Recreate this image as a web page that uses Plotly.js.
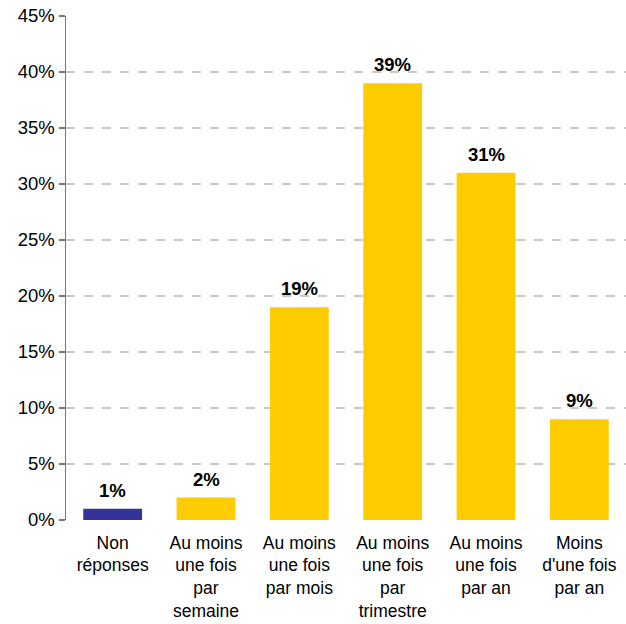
<!DOCTYPE html>
<html>
<head>
<meta charset="utf-8">
<script src="https://cdn.plot.ly/plotly-3.0.1.min.js"></script>
<style>html,body{margin:0;padding:0;background:#fff;}#chart{width:626px;height:624px;}</style>
</head>
<body>
<div id="chart"></div>
<script>
const categories = ["Non<br>réponses", "Au moins<br>une fois<br>par<br>semaine", "Au moins<br>une fois<br>par mois", "Au moins<br>une fois<br>par<br>trimestre", "Au moins<br>une fois<br>par an", "Moins<br>d'une fois<br>par an"];
const values = [1, 2, 19, 39, 31, 9];
const valueLabels = ["1%", "2%", "19%", "39%", "31%", "9%"];
const barColors = ["#333399", "#FFCC00", "#FFCC00", "#FFCC00", "#FFCC00", "#FFCC00"];
const yTickVals = [0, 5, 10, 15, 20, 25, 30, 35, 40, 45];
const yTickText = ["0%", "5%", "10%", "15%", "20%", "25%", "30%", "35%", "40%", "45%"];

const trace = {
  type: "bar",
  x: categories,
  y: values,
  marker: { color: barColors },
  hoverinfo: "none"
};

const annotations = categories.map((c, i) => ({
  x: c, y: values[i], text: "<b>" + valueLabels[i] + "</b>",
  showarrow: false, yanchor: "bottom", yshift: 6,
  font: { family: "Liberation Sans, Arial, sans-serif", size: 18.5, color: "#000" }
}));

const layout = {
  width: 626, height: 624,
  margin: { l: 66, r: 0, t: 16, b: 104 },
  paper_bgcolor: "#fff", plot_bgcolor: "#fff",
  showlegend: false,
  bargap: 0.37,
  font: { family: "Liberation Sans, Arial, sans-serif", size: 18, color: "#000" },
  xaxis: {
    type: "category",
    showgrid: false, showline: false, zeroline: false,
    ticks: "", ticklabelstandoff: 10,
    tickfont: { size: 17.5 }
  },
  yaxis: {
    range: [0, 45],
    tickvals: yTickVals, ticktext: yTickText,
    showgrid: true, gridcolor: "#c8c8c8", griddash: "dash", gridwidth: 1.5,
    zeroline: false,
    showline: true, linecolor: "#777", linewidth: 1.5,
    ticks: "outside", ticklen: 6, tickcolor: "#777", tickwidth: 1.5,
    tickfont: { size: 18.5 }
  },
  annotations: annotations
};

Plotly.newPlot("chart", [trace], layout, { displayModeBar: false, staticPlot: true });
</script>
</body>
</html>
